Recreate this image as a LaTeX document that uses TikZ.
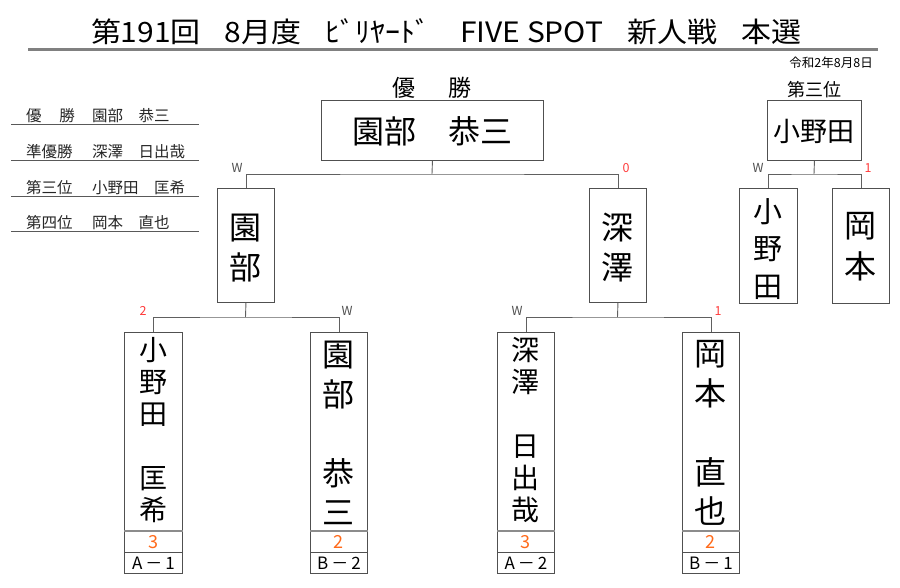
\documentclass[tikz,border=0pt]{standalone}
\usepackage{fontspec}
\setmainfont{Noto Sans CJK JP}
\setsansfont{Noto Sans CJK JP}
\definecolor{boxc}{HTML}{505050}
\definecolor{connc}{HTML}{606060}
\definecolor{scorec}{HTML}{FF6A1A}
\definecolor{redc}{HTML}{FF3B3B}
\definecolor{wc}{HTML}{505050}
\begin{document}
\begin{tikzpicture}[x=1pt,y=-1pt,
  box/.style={draw=boxc, line width=0.9pt, inner sep=0pt, anchor=north west},
  conn/.style={draw=connc, line width=0.9pt},
  vtxt/.style={align=center, inner sep=0pt},
  wlab/.style={font=\fontsize{12.5}{12.5}\selectfont, text=wc, inner sep=0pt},
  rlab/.style={font=\fontsize{12.5}{12.5}\selectfont, text=redc, inner sep=0pt},
  scoretxt/.style={font=\fontsize{18}{18}\selectfont, text=scorec, inner sep=0pt},
  codetxt/.style={font=\fontsize{17}{17}\selectfont, inner sep=0pt},
  listtxt/.style={font=\fontsize{15.5}{15.5}\selectfont, inner sep=0pt, text=black!85},
  sepl/.style={draw=black!45, line width=2pt},
  listl/.style={draw=black!65, line width=0.9pt}
]
\useasboundingbox (0,0) rectangle (900,587);

% title
\node[font=\fontsize{28}{28}\selectfont, inner sep=0pt] (title) at (446,32) {\scalebox{1.07}[1]{第191回\hspace{0.8em}8月度\hspace{0.8em}ﾋﾞﾘﾔｰﾄﾞ\hspace{1em}FIVE SPOT\hspace{0.8em}新人戦\hspace{0.8em}本選}};
\coordinate (tl) at (28,49.5);
\coordinate (tr) at (878,49.5);
\draw[draw=black!50, line width=2.5pt] (tl) -- (tr);
\node[font=\fontsize{12.5}{12.5}\selectfont, inner sep=0pt, anchor=east] (date) at (873,63) {令和2年8月8日};

% left list
\foreach \i/\y in {1/124,2/160,3/196,4/231}{
  \coordinate (ll\i) at (11,\y);
  \coordinate (lr\i) at (199,\y);
  \draw[listl] (ll\i) -- (lr\i);
}
\node[listtxt, anchor=west] (l1a) at (26,116) {優};
\node[listtxt, anchor=east] (l1b) at (75,116) {勝};
\node[listtxt, anchor=west] (l1c) at (92,116) {園部　恭三};
\node[listtxt, anchor=west] (l2a) at (26,152) {準優勝};
\node[listtxt, anchor=west] (l2c) at (92,152) {深澤　日出哉};
\node[listtxt, anchor=west] (l3a) at (26,188) {第三位};
\node[listtxt, anchor=west] (l3c) at (92,188) {小野田　匡希};
\node[listtxt, anchor=west] (l4a) at (26,223) {第四位};
\node[listtxt, anchor=west] (l4c) at (92,223) {岡本　直也};

% winner
\node[font=\fontsize{23}{23}\selectfont, inner sep=0pt] (winlab) at (432,88) {優\hspace{33pt}勝};
\node[box, minimum width=222pt, minimum height=60pt] (win) at (321,100) {};
\node[font=\fontsize{32}{32}\selectfont, inner sep=0pt] (wint) at (432,131) {園部　恭三};

% third place
\node[font=\fontsize{18}{18}\selectfont, inner sep=0pt] (tplab) at (814,90) {第三位};
\node[box, minimum width=94pt, minimum height=60pt] (tp) at (767,100) {};
\node[font=\fontsize{27}{27}\selectfont, inner sep=0pt] (tpt) at (814,131) {小野田};

% semifinal boxes
\node[box, minimum width=57pt, minimum height=114pt] (sf1) at (217,188) {};
\node[box, minimum width=57pt, minimum height=114pt] (sf2) at (589,188) {};
\node[vtxt, font=\fontsize{32}{40}\selectfont] (sf1t) at (245.5,248) {園\\部};
\node[vtxt, font=\fontsize{32}{40}\selectfont] (sf2t) at (617.5,248) {深\\澤};

% third place match boxes
\node[box, minimum width=58pt, minimum height=115pt] (tp1) at (739,188) {};
\node[box, minimum width=57pt, minimum height=115pt] (tp2) at (832,188) {};
\node[vtxt, font=\fontsize{29}{37.5}\selectfont] (tp1t) at (768,249) {小\\野\\田};
\node[vtxt, font=\fontsize{32}{41}\selectfont] (tp2t) at (860.5,247) {岡\\本};

% bottom boxes
\foreach \n/\x/\w/\s/\c in {b1/124/58/3/A, b2/310/57/2/B, b3/497/57/3/A, b4/682/57/2/B}{
  \node[box, minimum width=\w pt, minimum height=199pt] (\n) at (\x,332) {};
  \node[box, minimum width=\w pt, minimum height=21pt] (\n s) at (\x,531) {};
  \node[box, minimum width=\w pt, minimum height=21pt] (\n c) at (\x,552) {};
  \draw[sepl] (\n s.north west) -- (\n s.north east);
  \node[scoretxt] (\n sv) at (\n s.center) {\s};
}
\node[codetxt] (b1cv) at (b1c.center) {A\hspace{3pt}－\hspace{3pt}1};
\node[codetxt] (b2cv) at (b2c.center) {B\hspace{3pt}－\hspace{3pt}2};
\node[codetxt] (b3cv) at (b3c.center) {A\hspace{3pt}－\hspace{3pt}2};
\node[codetxt] (b4cv) at (b4c.center) {B\hspace{3pt}－\hspace{3pt}1};
\node[vtxt, font=\fontsize{28}{32}\selectfont] (b1t) at (153,430) {小\\野\\田\\\mbox{}\\匡\\希};
\node[vtxt, font=\fontsize{32}{39.5}\selectfont] (b2t) at (338.5,433) {園\\部\\\mbox{}\\恭\\三};
\node[vtxt, font=\fontsize{28}{32}\selectfont] (b3t) at (525.5,430) {深\\澤\\\mbox{}\\日\\出\\哉};
\node[vtxt, font=\fontsize{32}{39.5}\selectfont] (b4t) at (710.5,433) {岡\\本\\\mbox{}\\直\\也};

% connectors
\coordinate (jf) at (432,174);
\coordinate (jt) at (814,174);
\coordinate (js1) at (245.5,317);
\coordinate (js2) at (617.5,317);
\draw[conn] (win.south) -- (jf);
\draw[conn] (sf1.north) |- (jf) -| (sf2.north);
\draw[conn] (tp.south) -- (jt);
\draw[conn] (tp1.north) |- (jt) -| (tp2.north);
\draw[conn] (sf1.south) -- (js1);
\draw[conn] (b1.north) |- (js1) -| (b2.north);
\draw[conn] (sf2.south) -- (js2);
\draw[conn] (b3.north) |- (js2) -| (b4.north);

% result labels
\node[wlab] (w1) at (237,168) {W};
\node[rlab] (r1) at (626,168) {0};
\node[wlab] (w2) at (758,168) {W};
\node[rlab] (r2) at (868,168) {1};
\node[rlab] (r3) at (143,311) {2};
\node[wlab] (w3) at (347,311) {W};
\node[wlab] (w4) at (517,311) {W};
\node[rlab] (r4) at (718,311) {1};
\end{tikzpicture}
\end{document}
